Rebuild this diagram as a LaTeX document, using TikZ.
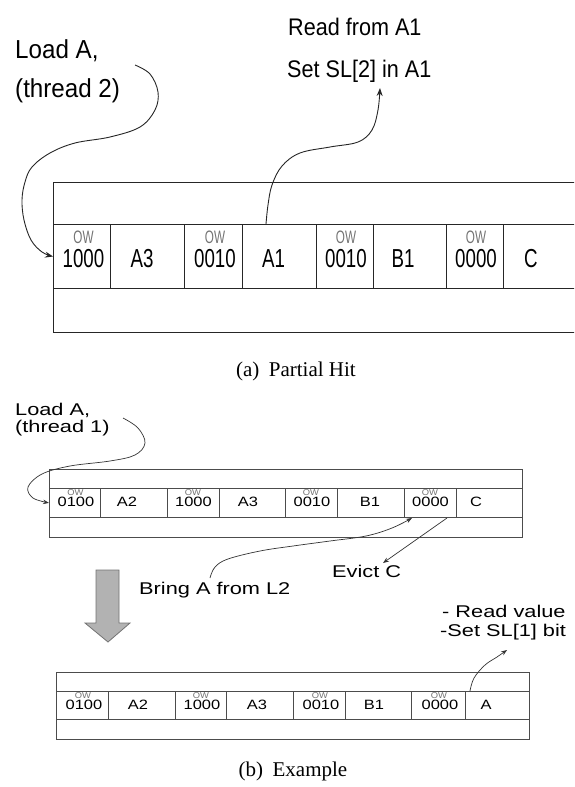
\documentclass[tikz,border=0pt]{standalone}
\usepackage{fontspec}
\setmainfont{Liberation Serif}
\newfontfamily\fLblA[FakeStretch=0.9]{Liberation Sans}
\newfontfamily\fLblL[FakeStretch=0.93]{Liberation Sans}
\newfontfamily\fCellA[FakeStretch=0.72]{Liberation Sans}
\newfontfamily\fOWA[FakeStretch=0.65]{Liberation Sans}
\newfontfamily\fLblB[FakeStretch=1.28]{Liberation Sans}
\newfontfamily\fCellB[FakeStretch=1.22]{Liberation Sans}
\newfontfamily\fOWB[FakeStretch=1.1]{Liberation Sans}
\usetikzlibrary{arrows.meta}
\tikzset{
  cellA/.style={draw=black!85, line width=1pt, inner sep=0pt, anchor=north west},
  cellB/.style={draw=black!70, line width=0.8pt, inner sep=0pt, anchor=north west},
  lblA/.style={font=\fLblA\fontsize{24}{28}\selectfont, inner sep=0pt, anchor=base west},
  lblL/.style={font=\fLblL\fontsize{26}{30}\selectfont, inner sep=0pt, anchor=base west},
  lblB/.style={font=\fLblB\fontsize{17}{20}\selectfont, inner sep=0pt, anchor=base west},
  numA/.style={font=\fCellA\fontsize{26}{30}\selectfont, inner sep=0pt, anchor=base},
  owA/.style={font=\fOWA\fontsize{18}{20}\selectfont, text=black!55, inner sep=0pt, anchor=base},
  numB/.style={font=\fCellB\fontsize{13.5}{16}\selectfont, inner sep=0pt, anchor=base},
  owB/.style={font=\fOWB\fontsize{8.5}{10}\selectfont, text=black!55, inner sep=0pt, anchor=base},
  capt/.style={font=\fontsize{21}{25}\selectfont, inner sep=0pt, anchor=base},
  connA/.style={draw=black!85, line width=0.9pt, -{Stealth[length=8pt,width=6pt]}},
  connB/.style={draw=black!80, line width=0.7pt, -{Stealth[length=6pt,width=4.5pt]}},
  blockarrow/.style={fill=black!30, draw=black!55, line width=0.8pt}
}
\begin{document}
\begin{tikzpicture}[x=1pt,y=-1pt]
\useasboundingbox (0,0) rectangle (574,787);
\clip (0,0) rectangle (574,787);

% ---------------- (a) Partial Hit ----------------
\node[lblL] (loadA) at (15,58) {Load A,};
\node[lblL] (thrA) at (15,97) {(thread 2)};
\node[lblA] (readA) at (288,35) {Read from A1};
\node[lblA] (setA) at (287,77) {Set SL[2] in A1};

\node[cellA, minimum width=560, minimum height=150] (boxA) at (53,182) {};
\foreach \n/\l/\r in {1/53/110,2/110/184,3/184/242,4/242/316,5/316/373,6/373/446,7/446/503,8/503/577}
  \node[cellA, minimum width={\r-\l}, minimum height=64] (ca\n) at (\l,224) {};

\node[owA] (owa1) at (83.5,243) {OW};
\node[numA] (na1) at (83.5,267) {1000};
\node[numA] (da2) at (142,267) {A3};
\node[owA] (owa3) at (215,243) {OW};
\node[numA] (na3) at (215,267) {0010};
\node[numA] (da4) at (273.5,267) {A1};
\node[owA] (owa5) at (346,243) {OW};
\node[numA] (na5) at (346,267) {0010};
\node[numA] (da6) at (403,267) {B1};
\node[owA] (owa7) at (476,243) {OW};
\node[numA] (na7) at (476,267) {0000};
\node[numA] (da8) at (531,267) {C};

\coordinate (sLoadA) at (135,65);
\coordinate (sA1) at (266,224);
\coordinate (tA1) at (380,88);
\draw[connA] plot[smooth, tension=0.6] coordinates {(sLoadA) (150,74) (158,92) (155,110) (140,127) (110,137) (75,143) (50,153) (32,167) (25,182) (22,200) (24,220) (31,240) (42,252) (ca1.west)};
\draw[connA] plot[smooth, tension=0.6] coordinates {(sA1) (268,205) (272,185) (282,166) (300,153) (330,147) (358,142) (372,130) (378,110) (tA1)};

\node[capt] (captA) at (296,376) {(a)\hspace{0.45em}Partial Hit};

% ---------------- (b) Example ----------------
\node[lblB] (loadB) at (15,415) {Load A,};
\node[lblB] (thrB) at (15,432) {(thread 1)};

\node[cellB, minimum width=473, minimum height=68] (boxB1) at (49,469) {};
\foreach \n/\l/\r in {1/49/100,2/100/167,3/167/219,4/219/285,5/285/337,6/337/404,7/404/456,8/456/522}
  \node[cellB, minimum width={\r-\l}, minimum height=29] (cb\n) at (\l,488) {};

\node[owB] (owb1) at (75.5,495) {OW};
\node[numB] (nb1) at (76,506) {0100};
\node[numB] (db2) at (127,506) {A2};
\node[owB] (owb3) at (193,495) {OW};
\node[numB] (nb3) at (193.5,506) {1000};
\node[numB] (db4) at (248,506) {A3};
\node[owB] (owb5) at (311,495) {OW};
\node[numB] (nb5) at (312,506) {0010};
\node[numB] (db6) at (370,506) {B1};
\node[owB] (owb7) at (430,495) {OW};
\node[numB] (nb7) at (430.5,506) {0000};
\node[numB] (db8) at (476,506) {C};

\coordinate (sLoadB) at (123,418);
\draw[connB] plot[smooth, tension=0.6] coordinates {(sLoadB) (138,428) (145,443) (135,455) (110,461) (70,466) (42,474) (28,487) (33,498) (cb1.west)};

\node[lblB] (bring) at (139,594) {Bring A from L2};
\node[lblB] (evict) at (332,577) {Evict C};
\coordinate (sBring) at (210,578);
\coordinate (tBring) at (412,518);
\draw[connB] plot[smooth, tension=0.6] coordinates {(sBring) (215,567) (228,559) (260,551) (293,546) (330,541) (366,536) (392,528) (tBring)};
\coordinate (sEvict) at (447,518);
\coordinate (tEvict) at (383,563);
\draw[connB] (sEvict) -- (tEvict);

\draw[blockarrow] (96,570) -- (119,570) -- (119,623) -- (130,623) -- (108,642) -- (85,623) -- (96,623) -- cycle;

\node[lblB] (readB) at (442,617) {- Read value};
\node[lblB] (setB) at (440,636) {-Set SL[1] bit};

\node[cellB, minimum width=473, minimum height=67] (boxB2) at (56,672) {};
\foreach \n/\l/\r in {1/56/108,2/108/175,3/175/226,4/226/293,5/293/345,6/345/411,7/411/465,8/465/529}
  \node[cellB, minimum width={\r-\l}, minimum height=28] (cc\n) at (\l,691) {};

\node[owB] (owc1) at (83,698) {OW};
\node[numB] (nc1) at (84,709) {0100};
\node[numB] (dc2) at (138,709) {A2};
\node[owB] (owc3) at (201,698) {OW};
\node[numB] (nc3) at (202,709) {1000};
\node[numB] (dc4) at (257,709) {A3};
\node[owB] (owc5) at (320,698) {OW};
\node[numB] (nc5) at (321,709) {0010};
\node[numB] (dc6) at (374,709) {B1};
\node[owB] (owc7) at (439,698) {OW};
\node[numB] (nc7) at (440,709) {0000};
\node[numB] (dc8) at (486,709) {A};

\coordinate (sRead) at (470,691);
\coordinate (tRead) at (507,650);
\draw[connB] plot[smooth, tension=0.6] coordinates {(sRead) (474,678) (485,665) (497,657) (tRead)};

\node[capt] (captB) at (293,776) {(b)\hspace{0.45em}Example};
\end{tikzpicture}
\end{document}
